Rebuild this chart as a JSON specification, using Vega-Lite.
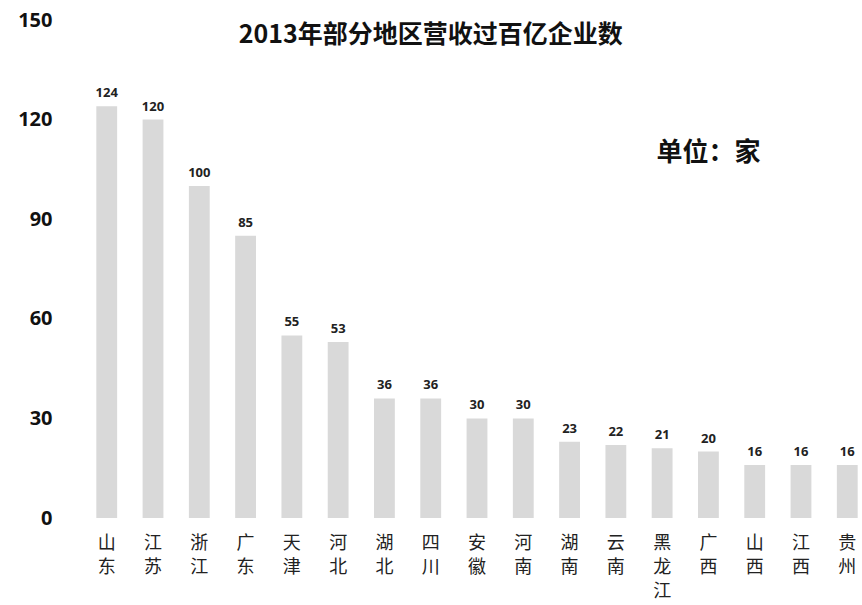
{
  "$schema": "https://vega.github.io/schema/vega-lite/v6.json",
  "autosize": "none",
  "width": 766,
  "height": 498,
  "padding": {"left": 94, "top": 20, "right": 2, "bottom": 87},
  "background": "white",
  "config": {"view": {"stroke": null}, "font": "Noto Sans CJK SC"},
  "datasets": {
    "bars": [
      {"region": "山东", "count": 124},
      {"region": "江苏", "count": 120},
      {"region": "浙江", "count": 100},
      {"region": "广东", "count": 85},
      {"region": "天津", "count": 55},
      {"region": "河北", "count": 53},
      {"region": "湖北", "count": 36},
      {"region": "四川", "count": 36},
      {"region": "安徽", "count": 30},
      {"region": "河南", "count": 30},
      {"region": "湖南", "count": 23},
      {"region": "云南", "count": 22},
      {"region": "黑龙江", "count": 21},
      {"region": "广西", "count": 20},
      {"region": "山西", "count": 16},
      {"region": "江西", "count": 16},
      {"region": "贵州", "count": 16}
    ],
    "notes": [
      {"region": "广西", "count": 110, "text": "单位：家", "size": 26},
      {"region": "四川", "count": 145.5, "text": "2013年部分地区营收过百亿企业数", "size": 25}
    ]
  },
  "layer": [
    {
      "data": {"name": "bars"},
      "mark": {"type": "bar", "color": "#d9d9d9"},
      "encoding": {
        "x": {
          "field": "region",
          "type": "nominal",
          "sort": null,
          "scale": {"paddingInner": 0.55, "paddingOuter": 0.05},
          "axis": {
            "title": null,
            "domain": false,
            "ticks": false,
            "labelAngle": 0,
            "labelExpr": "split(datum.label, '')",
            "labelFontSize": 18,
            "labelLineHeight": 24,
            "labelPadding": 16,
            "labelColor": "#222222",
            "labelBaseline": "top"
          }
        },
        "y": {
          "field": "count",
          "type": "quantitative",
          "scale": {"domain": [0, 150], "nice": false},
          "axis": {
            "title": null,
            "domain": false,
            "ticks": false,
            "grid": false,
            "values": [0, 30, 60, 90, 120, 150],
            "labelFontSize": 20,
            "labelFontWeight": "bold",
            "labelColor": "#111111",
            "labelPadding": 42,
            "labelFont": "Open Sans"
          }
        }
      }
    },
    {
      "data": {"name": "bars"},
      "mark": {"type": "text", "baseline": "bottom", "dy": -6, "fontSize": 13, "fontWeight": "bold", "font": "Open Sans", "color": "#222222"},
      "encoding": {
        "x": {"field": "region", "type": "nominal", "sort": null},
        "y": {"field": "count", "type": "quantitative", "scale": {"domain": [0, 150], "nice": false}},
        "text": {"field": "count", "type": "quantitative"}
      }
    },
    {
      "data": {"name": "notes"},
      "mark": {"type": "text", "fontWeight": "bold", "color": "#111111", "baseline": "middle", "align": "center"},
      "encoding": {
        "x": {"field": "region", "type": "nominal", "sort": null},
        "y": {"field": "count", "type": "quantitative", "scale": {"domain": [0, 150], "nice": false}},
        "text": {"field": "text"},
        "size": {"field": "size", "type": "quantitative", "scale": null}
      }
    }
  ]
}
